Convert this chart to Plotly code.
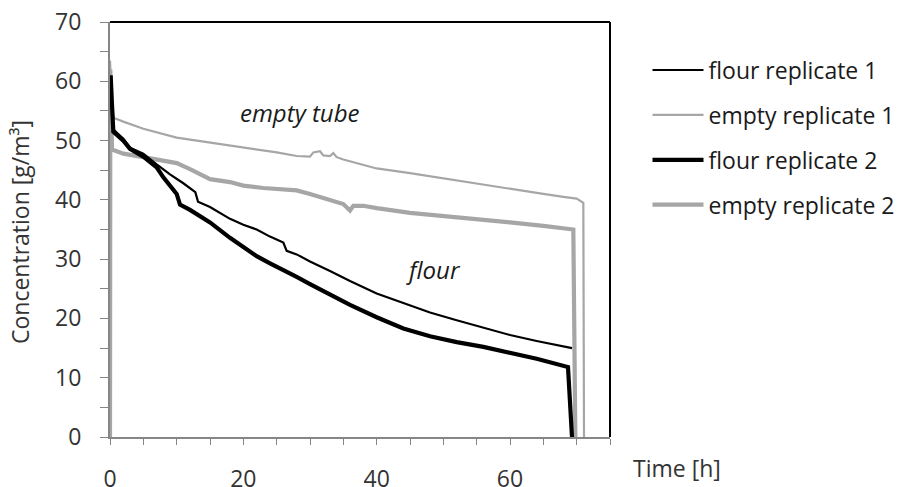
import plotly.graph_objects as go

# ---- data ----
t_empty1 = [0, 0, 0.3, 0.6, 2, 5, 10, 15, 20, 25, 28, 30, 30.5, 31.5, 32, 33, 33.5, 34, 35, 40, 45, 50, 55, 60, 65, 68, 70, 71, 71.1]
c_empty1 = [0, 63.5, 56, 53.8, 53.2, 52, 50.5, 49.7, 48.8, 48, 47.4, 47.3, 48, 48.2, 47.5, 47.4, 47.9, 47.2, 46.8, 45.3, 44.5, 43.6, 42.8, 41.9, 41, 40.5, 40.2, 39.5, 0]

t_empty2 = [0, 0.05, 0.3, 2, 5, 8, 10, 12, 15, 18, 20, 23, 25, 28, 30, 33, 35, 36, 36.5, 38, 40, 45, 50, 55, 60, 65, 69.5, 69.8]
c_empty2 = [0, 62, 48.5, 47.8, 47.2, 46.6, 46.2, 45.2, 43.5, 43.0, 42.4, 42.0, 41.8, 41.6, 41.0, 40.0, 39.3, 38.2, 39.0, 39.0, 38.6, 37.8, 37.3, 36.8, 36.2, 35.6, 35.0, 0]

t_flour1 = [0.4, 1, 2, 3, 5, 7, 9, 11, 12.8, 13.2, 15, 18, 20, 22, 24, 26, 26.5, 28, 30, 33, 36, 40, 44, 48, 52, 56, 60, 64, 69.3]
c_flour1 = [52, 51.3, 50.3, 48.8, 47.8, 46, 44.3, 42.8, 41.3, 39.7, 38.8, 36.8, 35.8, 35, 33.8, 32.8, 31.4, 30.8, 29.6, 28.0, 26.3, 24.2, 22.6, 21.0, 19.7, 18.4, 17.2, 16.2, 15.0]

t_flour2 = [0, 0.1, 0.3, 0.5, 1, 2, 3, 5, 7, 8, 10, 10.5, 12, 15, 18, 20, 22, 24, 26, 28, 30, 33, 36, 40, 44, 48, 52, 56, 60, 64, 68.7, 69.3]
c_flour2 = [57, 61, 56, 51.5, 51, 50, 48.6, 47.3, 45.5, 43.8, 41, 39.2, 38.3, 36.2, 33.6, 32, 30.5, 29.3, 28.2, 27.0, 25.8, 24, 22.3, 20.2, 18.3, 17.0, 16, 15.2, 14.2, 13.2, 11.8, 0]

x_ticks = [0, 20, 40, 60]
y_ticks = [0, 10, 20, 30, 40, 50, 60, 70]

GRAY = "#a6a6a6"
FONT = "Open Sans"
TXT = "#333333"
FS = 23

fig = go.Figure()
series = [
    ("flour replicate 1", t_flour1, c_flour1, "black", 2.2),
    ("empty replicate 1", t_empty1, c_empty1, GRAY, 2.2),
    ("flour replicate 2", t_flour2, c_flour2, "black", 4.2),
    ("empty replicate 2", t_empty2, c_empty2, GRAY, 4.2),
]
order = [1, 3, 0, 2]
for i in order:
    name, t, c, col, w = series[i]
    fig.add_trace(go.Scatter(x=t, y=c, mode="lines", name=name,
                             line=dict(color=col, width=w),
                             legendgroup=name, legendrank=i + 1))

# page body has an 8px offset; plot area is placed so it lands at the reference position
fig.update_layout(
    width=910, height=487,
    margin=dict(l=102, r=308, t=14, b=58, autoexpand=False),
    paper_bgcolor="white", plot_bgcolor="white",
    font=dict(family=FONT, size=FS, color=TXT),
    showlegend=True,
    legend=dict(x=1.075, y=0.936, xanchor="left", yanchor="top",
                font=dict(family=FONT, size=FS, color="#1a1a1a"),
                tracegroupgap=12, itemwidth=51,
                bgcolor="rgba(0,0,0,0)"),
)
fig.update_xaxes(range=[0, 75], tickvals=x_ticks, showgrid=False, zeroline=False,
                 automargin=False, ticklabeloverflow="allow",
                 showline=True, linecolor="#868686", linewidth=2,
                 ticks="outside", ticklen=6, tickcolor="#868686", tickwidth=1,
                 minor=dict(dtick=5, tick0=0, ticks="outside", ticklen=6, tickcolor="#868686"),
                 ticklabelstandoff=14, tickfont=dict(size=FS))
fig.update_yaxes(range=[0, 70], tickvals=y_ticks, showgrid=False, zeroline=False,
                 automargin=False, ticklabeloverflow="allow",
                 showline=True, linecolor="#868686", linewidth=2,
                 ticks="outside", ticklen=8, tickcolor="#868686", tickwidth=1,
                 minor=dict(dtick=5, tick0=0, ticks="outside", ticklen=8, tickcolor="#868686"),
                 ticklabelstandoff=14, tickfont=dict(size=FS))

fig.add_shape(type="line", xref="paper", yref="paper", x0=0, x1=1, y0=1, y1=1,
              line=dict(color="black", width=2))
fig.add_shape(type="line", xref="paper", yref="paper", x0=1, x1=1, y0=0, y1=1,
              line=dict(color="black", width=2))

fig.add_annotation(x=28.5, y=54.7, xref="x", yref="y", text="<i>empty tube</i>",
                   showarrow=False, font=dict(family=FONT, size=24, color="#1a1a1a"))
fig.add_annotation(x=48.5, y=28.3, xref="x", yref="y", text="<i>flour</i>",
                   showarrow=False, font=dict(family=FONT, size=24, color="#1a1a1a"))
fig.add_annotation(x=(677 - 110) / 500, y=(437 - 468) / 415,
                   xref="paper", yref="paper", text="Time [h]",
                   xanchor="center", yanchor="middle",
                   showarrow=False, font=dict(family=FONT, size=FS, color=TXT))
fig.add_annotation(x=(20 - 110) / 500, y=(437 - 232) / 415, xref="paper", yref="paper",
                   text="Concentration [g/m³]", xanchor="center", yanchor="middle",
                   textangle=-90, showarrow=False, font=dict(family=FONT, size=FS, color=TXT))

fig.write_html("out.html")
